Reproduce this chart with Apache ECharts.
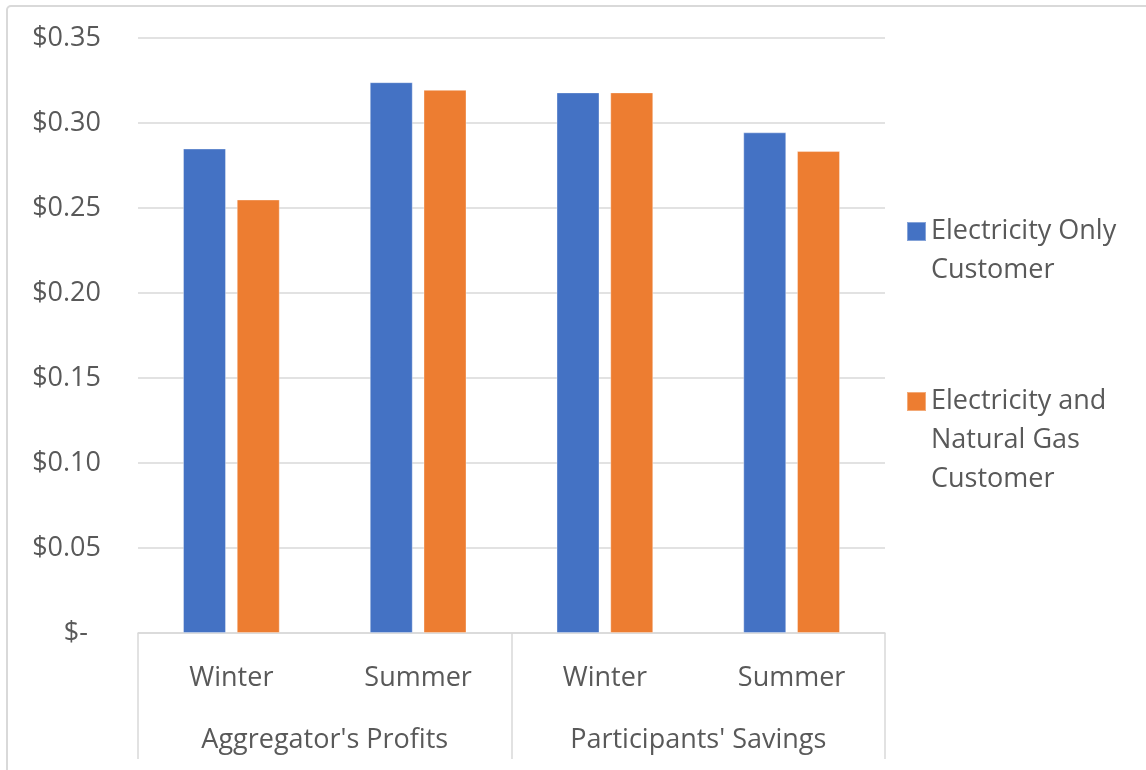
<!DOCTYPE html>
<html>
<head>
<meta charset="utf-8">
<script src="https://cdn.jsdelivr.net/npm/echarts@6/dist/echarts.min.js"></script>
<style>
html,body{margin:0;padding:0;background:#fff;}
#chart{width:1146px;height:770px;}
</style>
</head>
<body>
<div id="chart"></div>
<script>
const seasons = ["Winter", "Summer", "Winter", "Summer"];
const groups = ["Aggregator's Profits", "Participants' Savings"];
const seriesNames = ["Electricity Only Customer", "Electricity and Natural Gas Customer"];
const legendLabels = ["Electricity Only\nCustomer", "Electricity and\nNatural Gas\nCustomer"];
const electricityOnly = [0.285, 0.324, 0.318, 0.2945];
const electricityGas = [0.255, 0.3195, 0.318, 0.2835];

const FONT = "Open Sans";
const TXT = "#595959";
const GRID = "#d9d9d9";

const chart = echarts.init(document.getElementById('chart'), null, {renderer: 'canvas'});
chart.setOption({
  animation: false,
  backgroundColor: '#fff',
  color: ['#4472C4', '#ED7D31'],
  graphic: [{
    type: 'rect', silent: true, z: -1,
    shape: {x: 7, y: 6, width: 1160, height: 790, r: 4},
    style: {fill: 'none', stroke: GRID, lineWidth: 2}
  }],
  grid: {left: 138, right: 261, top: 38, bottom: 137, containLabel: false},
  legend: {
    orient: 'vertical',
    left: 906,
    top: 173,
    padding: 0,
    itemWidth: 19,
    itemHeight: 19,
    itemGap: 14,
    icon: 'rect',
    selectedMode: false,
    textStyle: {fontFamily: FONT, fontSize: 27, color: TXT, lineHeight: 39},
    formatter: function (name) {
      const i = seriesNames.indexOf(name);
      const lines = legendLabels[i].split('\n');
      const pad = new Array(lines.length - 1).fill(' ');
      return pad.concat(lines).join('\n');
    },
    data: seriesNames
  },
  xAxis: [{
    type: 'category',
    data: seasons,
    position: 'bottom',
    axisLine: {show: true, lineStyle: {color: GRID, width: 1.5}},
    axisTick: {show: false},
    axisLabel: {fontFamily: FONT, fontSize: 27, color: TXT, margin: 30, lineHeight: 30}
  }, {
    type: 'category',
    data: groups,
    position: 'bottom',
    gridIndex: 0,
    axisLine: {show: false},
    axisTick: {show: true, length: 126, lineStyle: {color: GRID, width: 1.5}},
    axisLabel: {fontFamily: FONT, fontSize: 27, color: TXT, margin: 92, lineHeight: 30},
    splitLine: {show: false}
  }],
  yAxis: {
    type: 'value',
    min: 0,
    max: 0.35,
    interval: 0.05,
    axisLine: {show: false},
    axisTick: {show: false},
    splitLine: {lineStyle: {color: GRID, width: 1.5}},
    axisLabel: {
      fontFamily: FONT, fontSize: 27, color: TXT, margin: 37, align: 'right',
      formatter: function (v) {
        if (Math.abs(v) < 1e-9) return '{z|$-}';
        return '$' + v.toFixed(2);
      },
      rich: {z: {fontFamily: FONT, fontSize: 27, color: TXT, padding: [0, 13, 0, 0]}}
    }
  },
  series: [{
    name: seriesNames[0],
    type: 'bar',
    xAxisIndex: 0,
    data: electricityOnly,
    barWidth: 43,
    barGap: '25%',
    itemStyle: {borderColor: 'rgba(255,255,255,0.35)', borderWidth: 1}
  }, {
    name: seriesNames[1],
    type: 'bar',
    xAxisIndex: 0,
    data: electricityGas,
    barWidth: 43,
    barGap: '25%',
    itemStyle: {borderColor: 'rgba(255,255,255,0.35)', borderWidth: 1}
  }]
});
</script>
</body>
</html>
